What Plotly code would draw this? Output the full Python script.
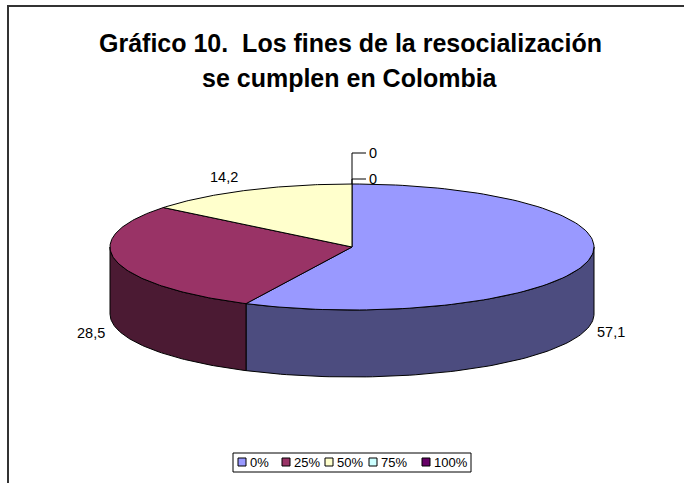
import numpy as np
import plotly.graph_objects as go

# ---- data ----
categories = ["0%", "25%", "50%", "75%", "100%"]
values = [57.1, 28.5, 14.2, 0, 0]
value_labels = ["57,1", "28,5", "14,2", "0", "0"]
title_lines = ["Gráfico 10.  Los fines de la resocialización", "se cumplen en Colombia"]

# ---- style ----
top_colors = ["#9999FF", "#993366", "#FFFFCC", "#CCFFFF", "#660066"]
side_colors = ["#4C4C7F", "#4B1A33", "#7F7F66", "#667F7F", "#330033"]
FONT = "Arial, Liberation Sans, sans-serif"
W, H = 684, 483
cx, cy = 352, 247          # pie centre (pixels)
ra, rb = 242, 63           # ellipse semi-axes
depth = 67                 # 3D thickness
label_offsets = [(23, 4), (-25, 5), (-23, -13)]
zero_label_y = [179, 153]
legend_sq_x = [238, 282, 325, 369, 422]

total = sum(values)
bounds = np.concatenate([[0], np.cumsum(values)]) / total * 360.0


def pt(theta_deg, dy=0.0):
    t = np.radians(theta_deg)
    return cx + ra * np.sin(t), cy - rb * np.cos(t) + dy


fig = go.Figure()

# side walls (visible front half: 90..270 deg clockwise from top)
for i, v in enumerate(values):
    lo, hi = max(bounds[i], 90), min(bounds[i + 1], 270)
    if v <= 0 or lo >= hi:
        continue
    th = np.linspace(lo, hi, 80)
    xt, yt = pt(th)
    xb, yb = pt(th[::-1], depth)
    xs = np.concatenate([xt, xb, [xt[0]]])
    ys = np.concatenate([yt, yb, [yt[0]]])
    fig.add_trace(go.Scatter(x=xs, y=ys, mode="lines", fill="toself",
                             fillcolor=side_colors[i], line=dict(color="black", width=1),
                             hoverinfo="skip", showlegend=False))

# top faces
for i, v in enumerate(values):
    if v <= 0:
        continue
    th = np.linspace(bounds[i], bounds[i + 1], 120)
    xa, ya = pt(th)
    xs = np.concatenate([[cx], xa, [cx]])
    ys = np.concatenate([[cy], ya, [cy]])
    fig.add_trace(go.Scatter(x=xs, y=ys, mode="lines", fill="toself",
                             fillcolor=top_colors[i], line=dict(color="black", width=1),
                             hoverinfo="skip", showlegend=False))

annotations = []
LBL = 14.5
# value labels for non-zero slices
k = 0
for i, v in enumerate(values):
    if v <= 0:
        continue
    mid = (bounds[i] + bounds[i + 1]) / 2
    front = 90 < mid < 270
    ex, ey = pt(mid, depth if front else 0)
    ox, oy = label_offsets[k]
    k += 1
    annotations.append(dict(x=ex + ox, y=ey + oy, text=value_labels[i], showarrow=False,
                            xref="x", yref="y", font=dict(family=FONT, size=LBL, color="black")))

# zero slices with leader lines
z = 0
for i, v in enumerate(values):
    if v > 0:
        continue
    px, py = pt(bounds[i])
    ly = zero_label_y[z]
    z += 1
    fig.add_trace(go.Scatter(x=[px, px, px + 14], y=[py, ly, ly], mode="lines",
                             line=dict(color="black", width=1), hoverinfo="skip", showlegend=False))
    annotations.append(dict(x=px + 15, y=ly, text=value_labels[i], showarrow=False, xanchor="left",
                            xref="x", yref="y", font=dict(family=FONT, size=LBL, color="black")))

# title
annotations.append(dict(x=350, y=43, text="<b>%s</b>" % title_lines[0], showarrow=False,
                        xref="x", yref="y", font=dict(family=FONT, size=25, color="black")))
annotations.append(dict(x=350, y=78, text="<b>%s</b>" % title_lines[1], showarrow=False,
                        xref="x", yref="y", font=dict(family=FONT, size=25, color="black")))

shapes = [
    # chart border
    dict(type="rect", xref="x", yref="y", x0=8, y0=6, x1=W + 10, y1=H + 10,
         line=dict(color="#333333", width=2), fillcolor="rgba(0,0,0,0)", layer="below"),
    # legend box
    dict(type="rect", xref="x", yref="y", x0=233, y0=453, x1=471, y1=472,
         line=dict(color="black", width=1), fillcolor="white", layer="above"),
]
for i, c in enumerate(categories):
    x0 = legend_sq_x[i]
    shapes.append(dict(type="rect", xref="x", yref="y", x0=x0, y0=458, x1=x0 + 8, y1=466,
                       line=dict(color="black", width=1), fillcolor=top_colors[i], layer="above"))
    annotations.append(dict(x=x0 + 10, y=462.5, text=c, showarrow=False, xanchor="left",
                            xref="x", yref="y", font=dict(family=FONT, size=13, color="black")))

fig.update_layout(
    width=W, height=H, margin=dict(l=0, r=0, t=0, b=0),
    paper_bgcolor="white", plot_bgcolor="white",
    xaxis=dict(range=[0, W], visible=False, fixedrange=True),
    yaxis=dict(range=[H, 0], visible=False, fixedrange=True),
    shapes=shapes, annotations=annotations, showlegend=False,
)

fig.write_html("out.html")
